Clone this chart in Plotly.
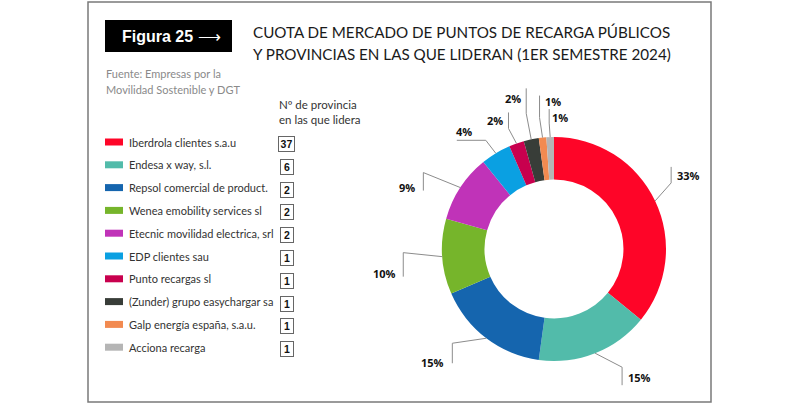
import math
import plotly.graph_objects as go

# ---------------- data ----------------
companies = [
    "Iberdrola clientes s.a.u",
    "Endesa x way, s.l.",
    "Repsol comercial de product.",
    "Wenea emobility services sl",
    "Etecnic movilidad electrica, srl",
    "EDP clientes sau",
    "Punto recargas sl",
    "(Zunder) grupo easychargar sa",
    "Galp energía españa, s.a.u.",
    "Acciona recarga",
]
share_pct = [33, 15, 15, 10, 9, 4, 2, 2, 1, 1]
provinces_led = [37, 6, 2, 2, 2, 1, 1, 1, 1, 1]
colors = ["#FE0528", "#52BBAA", "#1565AE", "#76B52B", "#C033B8",
          "#0AA0E2", "#C8004E", "#383D38", "#F28A50", "#B5B5B5"]

title_lines = ["CUOTA DE MERCADO DE PUNTOS DE RECARGA PÚBLICOS",
               "Y PROVINCIAS EN LAS QUE LIDERAN (1ER SEMESTRE 2024)"]
source_lines = ["Fuente: Empresas por la", "Movilidad Sostenible y DGT"]
col_header = ["Nº de provincia", "en las que lidera"]

# ---------------- layout helpers (pixels -> paper) ----------------
W, H = 800, 408
def px(x):
    return x / W
def py(y):
    return 1 - y / H

CX, CY, R = 554, 249, 112  # donut centre / radius in pixels

# leader-line offsets relative to slice anchor: (elbow), (end), (label), anchor side
leader_style = [
    ((16, -18), (16, -34), (20, -25), "left"),
    ((27, 14), (27, 32), (31, 24), "left"),
    ((-34, 5), (-34, 25), (-40, 24), "right"),
    ((-39, -4), (-39, 20), (-44, 17), "right"),
    ((-37, -15), (-37, 3), (-43, 0), "right"),
    ((-10, -13), (-39, -13), (-32, -22), "center"),
    ((-8, -15), (-8, -31), (-11, -23), "right"),
    ((-5, -26), (-5, -51), (-8, -41), "right"),
    ((-3, -20), (-3, -42), (0, -36), "left"),
    ((-1, -14), (-1, -28), (0, -20), "left"),
]

fig = go.Figure()
fig.add_trace(go.Pie(
    labels=companies,
    values=share_pct,
    marker=dict(colors=colors, line=dict(width=0)),
    hole=0.62,
    sort=False,
    direction="clockwise",
    rotation=0,
    textinfo="none",
    showlegend=False,
    domain=dict(x=[px(CX - R), px(CX + R)], y=[py(CY + R), py(CY - R)]),
))

shapes = []
annotations = []

# frame
shapes.append(dict(type="rect", xref="paper", yref="paper",
                   x0=px(88), x1=px(711), y0=py(402), y1=py(2),
                   line=dict(color="#7a7a7a", width=1.5)))
# black figure box
shapes.append(dict(type="rect", xref="paper", yref="paper",
                   x0=px(105), x1=px(232), y0=py(52), y1=py(20),
                   fillcolor="black", line=dict(width=0)))
annotations.append(dict(xref="paper", yref="paper", x=px(120), y=py(36),
                        text="<b>Figura 25</b> ⟶", showarrow=False,
                        xanchor="left", yanchor="middle",
                        font=dict(family="Liberation Sans", size=16, color="white")))

# title
for i, t in enumerate(title_lines):
    annotations.append(dict(xref="paper", yref="paper", x=px(251), y=py(32 + 22 * i),
                            text=t, showarrow=False, xanchor="left", yanchor="middle",
                            font=dict(family="Lato", size=15.2, color="#1a1a1a")))
# source
for i, t in enumerate(source_lines):
    annotations.append(dict(xref="paper", yref="paper", x=px(104), y=py(73 + 16 * i),
                            text=t, showarrow=False, xanchor="left", yanchor="middle",
                            font=dict(family="Lato", size=11, color="#8a8a8a")))
# column header
for i, t in enumerate(col_header):
    annotations.append(dict(xref="paper", yref="paper", x=px(277), y=py(104 + 15 * i),
                            text=t, showarrow=False, xanchor="left", yanchor="middle",
                            font=dict(family="Lato", size=11.5, color="#333")))

# custom legend + province boxes
row0, step = 142, 22.8
for i, (name, col, n) in enumerate(zip(companies, colors, provinces_led)):
    y = row0 + step * i
    shapes.append(dict(type="rect", xref="paper", yref="paper",
                       x0=px(105), x1=px(123), y0=py(y + 3.5), y1=py(y - 3.5),
                       fillcolor=col, line=dict(width=0)))
    annotations.append(dict(xref="paper", yref="paper", x=px(127), y=py(y),
                            text=name, showarrow=False, xanchor="left", yanchor="middle",
                            font=dict(family="Lato", size=11, color="#333")))
    s = str(n)
    annotations.append(dict(xref="paper", yref="paper", x=px(286.5), y=py(y + 2),
                            text=f"<b>{s}</b>", showarrow=False,
                            xanchor="center", yanchor="middle",
                            width=10 if len(s) == 1 else 13, height=12,
                            bordercolor="#666", borderwidth=1, borderpad=1,
                            bgcolor="white",
                            font=dict(family="Liberation Sans", size=10.5, color="#111")))

# percentage labels with leader lines computed from slice mid-angles
total = sum(share_pct)
cum = 0
for v, (elb, end, lab, side) in zip(share_pct, leader_style):
    mid = (cum + v / 2) / total * 2 * math.pi
    cum += v
    ax = CX + R * math.sin(mid)
    ay = CY - R * math.cos(mid)
    pts = [(ax, ay), (ax + elb[0], ay + elb[1]), (ax + end[0], ay + end[1])]
    path = "M " + " L ".join(f"{px(x):.5f},{py(y):.5f}" for x, y in pts)
    shapes.append(dict(type="path", xref="paper", yref="paper", path=path,
                       line=dict(color="#8c8c8c", width=1)))
    annotations.append(dict(xref="paper", yref="paper",
                            x=px(ax + lab[0]), y=py(ay + lab[1]),
                            text=f"<b>{v}%</b>", showarrow=False,
                            xanchor=side, yanchor="middle",
                            font=dict(family="Open Sans", size=11, color="#111")))

fig.update_layout(
    width=W, height=H,
    margin=dict(l=0, r=0, t=0, b=0),
    paper_bgcolor="white", plot_bgcolor="white",
    shapes=shapes, annotations=annotations,
)
fig.write_html("out.html", config={"displayModeBar": False},
               post_script="document.body.style.margin='0px';document.body.style.overflow='hidden';")
